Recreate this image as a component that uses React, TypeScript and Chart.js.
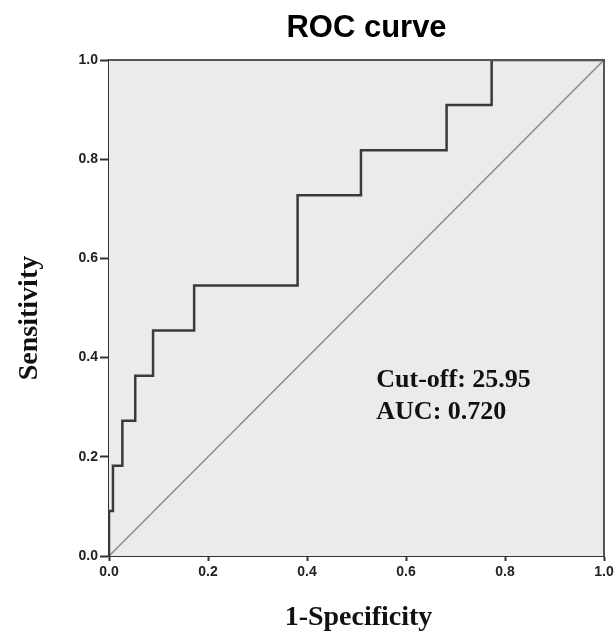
import React, { useEffect, useRef } from "react";
import { Chart, registerables } from "chart.js";

Chart.register(...registerables);

// ROC coordinates (1 - specificity, sensitivity)
const fpr = [0, 0, 0.008, 0.027, 0.053, 0.089, 0.172, 0.381, 0.509, 0.682, 0.773, 1.0];
const tpr = [0, 0.0909, 0.1818, 0.2727, 0.3636, 0.4545, 0.5455, 0.7273, 0.8182, 0.9091, 1.0, 1.0];
// reference (chance) line
const refX = [0, 1];
const refY = [0, 1];

const chartTitle = "ROC curve";
const xTitle = "1-Specificity";
const yTitle = "Sensitivity";
const annotationLines = ["Cut-off: 25.95", "AUC: 0.720"];
const annotationAt = { x: 0.54, y: 0.34 };

const SANS = "'Liberation Sans', Arial, sans-serif";
const SERIF = "'Liberation Serif', 'Times New Roman', serif";

const decor = {
  id: "decor",
  beforeDatasetsDraw(chart: any) {
    const { ctx, chartArea: a } = chart;
    ctx.save();
    ctx.fillStyle = "#ebebeb";
    ctx.fillRect(a.left, a.top, a.right - a.left, a.bottom - a.top);
    ctx.restore();
  },
  afterDraw(chart: any) {
    const { ctx, chartArea: a, scales } = chart;
    ctx.save();
    // top and right frame
    ctx.strokeStyle = "#555";
    ctx.lineWidth = 2;
    ctx.beginPath();
    ctx.moveTo(a.left, a.top);
    ctx.lineTo(a.right, a.top);
    ctx.lineTo(a.right, a.bottom);
    ctx.stroke();

    const cx = (a.left + a.right) / 2;
    const cy = (a.top + a.bottom) / 2;

    // title
    ctx.fillStyle = "#000";
    ctx.textBaseline = "alphabetic";
    ctx.textAlign = "center";
    ctx.font = `bold 31px ${SANS}`;
    ctx.fillText(chartTitle, cx + 10, a.top - 23);

    // x axis title
    ctx.font = `bold 28px ${SERIF}`;
    ctx.fillStyle = "#111";
    ctx.fillText(xTitle, cx + 2, a.bottom + 69);

    // y axis title
    ctx.save();
    ctx.translate(a.left - 72.5, cy + 10);
    ctx.rotate(-Math.PI / 2);
    ctx.fillText(yTitle, 0, 0);
    ctx.restore();

    // annotation
    const ax = scales.x.getPixelForValue(annotationAt.x);
    const ay = scales.y.getPixelForValue(annotationAt.y);
    ctx.font = `bold 26px ${SERIF}`;
    ctx.textAlign = "left";
    ctx.fillStyle = "#111";
    annotationLines.forEach((t, i) => ctx.fillText(t, ax, ay + i * 31.6));
    ctx.restore();
  },
};

export default function App() {
  const ref = useRef<HTMLCanvasElement | null>(null);
  useEffect(() => {
    if (!ref.current) return;
    const tickFont = { family: SANS, size: 14, weight: "bold" as const };
    const chart = new Chart(ref.current, {
      type: "scatter",
      data: {
        datasets: [
          {
            label: "ROC",
            data: fpr.map((x, i) => ({ x, y: tpr[i] })),
            showLine: true,
            stepped: "before",
            borderColor: "#3a3a3a",
            borderWidth: 2.5,
            pointRadius: 0,
            fill: false,
          },
          {
            label: "Reference",
            data: refX.map((x, i) => ({ x, y: refY[i] })),
            showLine: true,
            borderColor: "#8a8a8a",
            borderWidth: 1.5,
            pointRadius: 0,
            fill: false,
          },
        ],
      },
      options: {
        animation: false,
        responsive: true,
        maintainAspectRatio: false,
        devicePixelRatio: 1,
        layout: { padding: { top: 60, right: 10, left: 0, bottom: 0 } },
        plugins: {
          legend: { display: false },
          tooltip: { enabled: false },
          title: { display: false },
        },
        scales: {
          x: {
            type: "linear",
            min: 0,
            max: 1,
            ticks: {
              stepSize: 0.2,
              autoSkip: false,
              maxRotation: 0,
              padding: 3,
              color: "#222",
              font: tickFont,
              callback: (v: any) => Number(v).toFixed(1),
            },
            grid: {
              drawOnChartArea: false,
              drawTicks: true,
              tickLength: 5,
              tickWidth: 2,
              tickColor: "#333",
            },
            border: { display: true, color: "#333", width: 2 },
            afterFit: (s: any) => {
              s.height = 75;
              s.paddingLeft = 0;
              s.paddingRight = 0;
            },
          },
          y: {
            type: "linear",
            min: 0,
            max: 1,
            ticks: {
              stepSize: 0.2,
              autoSkip: false,
              padding: 2,
              color: "#222",
              font: tickFont,
              callback: (v: any) => Number(v).toFixed(1),
            },
            grid: {
              drawOnChartArea: false,
              drawTicks: true,
              tickLength: 9,
              tickWidth: 2,
              tickColor: "#333",
            },
            border: { display: true, color: "#333", width: 2 },
            afterFit: (s: any) => {
              s.width = 109;
              s.paddingTop = 0;
              s.paddingBottom = 0;
            },
          },
        },
      },
      plugins: [decor],
    });
    return () => chart.destroy();
  }, []);
  return (
    <div style={{ position: "absolute", left: 0, top: 0, width: 614, height: 631, background: "#fff" }}>
      <canvas ref={ref} />
    </div>
  );
}
